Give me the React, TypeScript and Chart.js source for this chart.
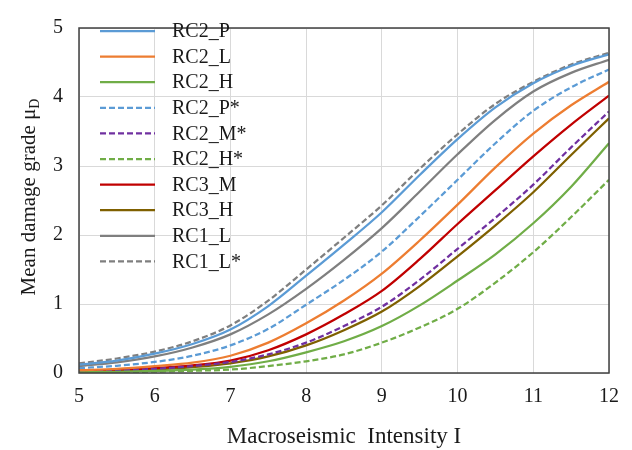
import React, { useEffect, useRef } from "react";
import { Chart, registerables } from "chart.js";
Chart.register(...registerables);

const intensity = [5, 5.5, 6, 6.5, 7, 7.5, 8, 8.5, 9, 9.5, 10, 10.5, 11, 11.5, 12];
const xTicks = [5, 6, 7, 8, 9, 10, 11, 12];
const yTicks = [0, 1, 2, 3, 4, 5];

const labels = ["RC2_P", "RC2_L", "RC2_H", "RC2_P*", "RC2_M*", "RC2_H*", "RC3_M", "RC3_H", "RC1_L", "RC1_L*"];

const rc2P = [0.12, 0.18, 0.28, 0.42, 0.63, 0.97, 1.41, 1.86, 2.33, 2.87, 3.39, 3.85, 4.2, 4.45, 4.62];
const rc2L = [0.04, 0.06, 0.1, 0.15, 0.25, 0.44, 0.72, 1.05, 1.44, 1.92, 2.44, 2.98, 3.47, 3.88, 4.22];
const rc2H = [0.01, 0.018, 0.03, 0.05, 0.09, 0.17, 0.3, 0.46, 0.68, 0.98, 1.34, 1.72, 2.17, 2.7, 3.33];
const rc2Pstar = [0.07, 0.105, 0.16, 0.25, 0.4, 0.64, 0.99, 1.35, 1.76, 2.27, 2.8, 3.33, 3.8, 4.14, 4.4];
const rc2Mstar = [0.02, 0.035, 0.06, 0.1, 0.16, 0.27, 0.44, 0.68, 0.96, 1.35, 1.8, 2.25, 2.73, 3.27, 3.79];
const rc2Hstar = [0.007, 0.012, 0.02, 0.032, 0.05, 0.1, 0.17, 0.27, 0.44, 0.66, 0.93, 1.31, 1.75, 2.26, 2.8];
const rc3M = [0.03, 0.045, 0.07, 0.11, 0.18, 0.33, 0.56, 0.85, 1.19, 1.65, 2.16, 2.65, 3.14, 3.6, 4.02];
const rc3H = [0.02, 0.03, 0.05, 0.085, 0.14, 0.24, 0.4, 0.62, 0.89, 1.26, 1.69, 2.14, 2.62, 3.16, 3.69];
const rc1L = [0.1, 0.155, 0.24, 0.37, 0.56, 0.85, 1.22, 1.64, 2.1, 2.63, 3.17, 3.67, 4.08, 4.35, 4.54];
const rc1Lstar = [0.14, 0.21, 0.31, 0.46, 0.69, 1.05, 1.5, 1.96, 2.43, 2.96, 3.46, 3.9, 4.22, 4.47, 4.64];

const seriesValues = [rc2P, rc2L, rc2H, rc2Pstar, rc2Mstar, rc2Hstar, rc3M, rc3H, rc1L, rc1Lstar];
const colors = ["#5B9BD5", "#ED7D31", "#70AD47", "#5B9BD5", "#7030A0", "#70AD47", "#C00000", "#7F6000", "#7F7F7F", "#7F7F7F"];
const dashed = [false, false, false, true, true, true, false, false, false, true];

const FONT = "'Liberation Serif', 'Times New Roman', serif";

const overlayPlugin = {
  id: "overlay",
  afterDatasetsDraw(chart: any) {
    const { ctx, chartArea } = chart;
    ctx.save();
    // frame
    ctx.strokeStyle = "#404040";
    ctx.lineWidth = 1.5;
    ctx.strokeRect(chartArea.left, chartArea.top, chartArea.right - chartArea.left, chartArea.bottom - chartArea.top);
    // legend
    ctx.font = `20px ${FONT}`;
    ctx.textBaseline = "middle";
    ctx.textAlign = "left";
    chart.data.datasets.forEach((ds: any, i: number) => {
      const y = 31 + i * 25.6;
      ctx.beginPath();
      ctx.strokeStyle = ds.borderColor;
      ctx.lineWidth = 2.25;
      ctx.setLineDash(ds.borderDash || []);
      ctx.moveTo(100, y);
      ctx.lineTo(155, y);
      ctx.stroke();
      ctx.setLineDash([]);
      ctx.fillStyle = "#1a1a1a";
      ctx.fillText(ds.label, 172, y + 1);
    });
    // x title
    ctx.font = `23px ${FONT}`;
    ctx.textAlign = "center";
    ctx.fillStyle = "#1a1a1a";
    ctx.fillText("Macroseismic  Intensity I", 344, 437);
    // y title with subscript
    ctx.translate(29, 197);
    ctx.rotate(-Math.PI / 2);
    const main = "Mean damage grade \u03bc";
    ctx.font = `21px ${FONT}`;
    const w1 = ctx.measureText(main).width;
    ctx.font = `14px ${FONT}`;
    const w2 = ctx.measureText("D").width;
    const start = -(w1 + w2) / 2;
    ctx.textAlign = "left";
    ctx.font = `21px ${FONT}`;
    ctx.fillText(main, start, 0);
    ctx.font = `14px ${FONT}`;
    ctx.fillText("D", start + w1, 6);
    ctx.restore();
  },
};

export default function App() {
  const ref = useRef<HTMLCanvasElement>(null);
  useEffect(() => {
    document.body.style.margin = "0";
    const canvas = ref.current!;
    const chart = new Chart(canvas, {
      type: "line",
      data: {
        datasets: seriesValues.map((vals, i) => ({
          label: labels[i],
          data: intensity.map((x, j) => ({ x, y: vals[j] })),
          borderColor: colors[i],
          backgroundColor: colors[i],
          borderWidth: 2.25,
          borderDash: dashed[i] ? [6, 3] : [],
          pointRadius: 0,
          cubicInterpolationMode: "monotone" as const,
          fill: false,
        })),
      },
      options: {
        animation: false,
        responsive: false,
        devicePixelRatio: 1,
        layout: { padding: { top: 17, right: 23, left: 0, bottom: 0 } },
        plugins: { legend: { display: false }, tooltip: { enabled: false } },
        scales: {
          x: {
            type: "linear",
            min: xTicks[0],
            max: xTicks[xTicks.length - 1],
            afterBuildTicks: (s: any) => { s.ticks = xTicks.map((v) => ({ value: v })); },
            afterFit: (s: any) => { s.height = 77; },
            grid: { color: "#d9d9d9", lineWidth: 1, drawTicks: false },
            border: { display: false },
            ticks: { font: { family: FONT, size: 20 }, color: "#1a1a1a", padding: 12, maxRotation: 0 },
          },
          y: {
            type: "linear",
            min: yTicks[0],
            max: yTicks[yTicks.length - 1],
            afterBuildTicks: (s: any) => { s.ticks = yTicks.map((v) => ({ value: v })); },
            afterFit: (s: any) => { s.width = 79; },
            grid: { color: "#d9d9d9", lineWidth: 1, drawTicks: false },
            border: { display: false },
            ticks: { font: { family: FONT, size: 20 }, color: "#1a1a1a", padding: 16 },
          },
        },
      },
      plugins: [overlayPlugin],
    });
    return () => chart.destroy();
  }, []);
  return <canvas ref={ref} width={632} height={450} style={{ display: "block" }} />;
}
